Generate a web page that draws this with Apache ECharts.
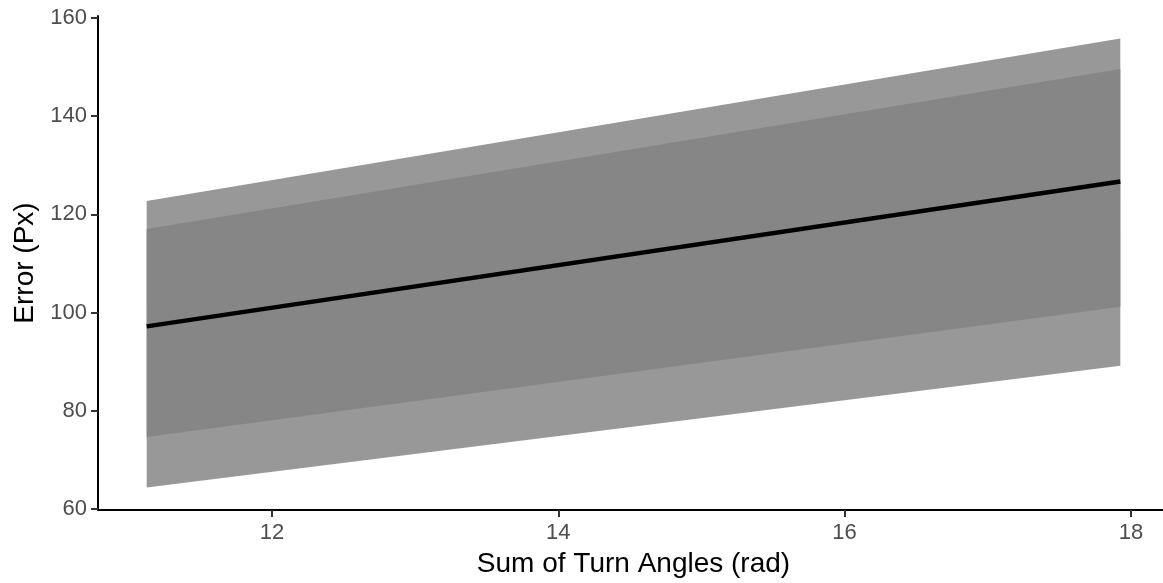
<!DOCTYPE html>
<html>
<head>
<meta charset="utf-8">
<script src="https://cdn.jsdelivr.net/npm/echarts@6/dist/echarts.min.js"></script>
<style>
  html, body { margin: 0; padding: 0; background: #ffffff; overflow: hidden; }
  #chart { width: 1170px; height: 583px; }
</style>
</head>
<body>
<div id="chart"></div>
<script>
// Predicted error vs. summed turn angle, with two uncertainty bands
const turnAngles = [11.125, 17.926];
const fitted     = [97.2, 126.7];
const innerLower = [74.7, 101.2];
const innerUpper = [117.0, 149.6];
const outerLower = [64.4, 89.2];
const outerUpper = [122.7, 155.8];

const xTicks = [12, 14, 16, 18];
const yTicks = [60, 80, 100, 120, 140, 160];

const FONT = "'Liberation Sans', Helvetica, Arial, sans-serif";

// band rows: [x, lower, upper]
function bandRows(lo, hi) {
  return turnAngles.map((x, i) => [x, lo[i], hi[i]]);
}

// draws the whole band polygon once, from the scaled points
function bandRenderer(color) {
  return function (params, api) {
    if (params.dataIndex !== 0) return null;
    const n = turnAngles.length;
    const upper = [], lower = [];
    for (let i = 0; i < n; i++) {
      upper.push(api.coord([api.value(0, i), api.value(2, i)]));
      lower.push(api.coord([api.value(0, i), api.value(1, i)]));
    }
    const pts = upper.concat(lower.reverse());
    return {
      type: 'polygon',
      shape: { points: pts },
      style: { fill: color, stroke: null }
    };
  };
}

const chart = echarts.init(document.getElementById('chart'), null, { renderer: 'canvas' });

chart.setOption({
  backgroundColor: '#ffffff',
  animation: false,
  grid: { left: 98, right: 1, top: 16, bottom: 69, containLabel: false },
  xAxis: {
    type: 'value',
    min: 10.785,
    max: 18.266,
    name: 'Sum of Turn Angles (rad)',
    nameLocation: 'middle',
    nameGap: 40,
    nameTextStyle: { fontFamily: FONT, fontSize: 28, color: '#000000' },
    axisLine: { show: true, onZero: false, lineStyle: { color: '#000000', width: 2 } },
    axisTick: { show: true, length: 7, lineStyle: { color: '#333333', width: 2 }, customValues: xTicks },
    axisLabel: { fontFamily: FONT, fontSize: 22, color: '#4d4d4d', margin: 12, customValues: xTicks },
    splitLine: { show: false }
  },
  yAxis: {
    type: 'value',
    min: 59.83,
    max: 160.37,
    name: 'Error (Px)',
    nameLocation: 'middle',
    nameGap: 52,
    nameRotate: 90,
    nameTextStyle: { fontFamily: FONT, fontSize: 28, color: '#000000' },
    axisLine: { show: true, onZero: false, lineStyle: { color: '#000000', width: 2 } },
    axisTick: { show: true, length: 7, lineStyle: { color: '#333333', width: 2 }, customValues: yTicks },
    axisLabel: { fontFamily: FONT, fontSize: 22, color: '#4d4d4d', margin: 11, customValues: yTicks },
    splitLine: { show: false }
  },
  series: [
    {
      type: 'custom',
      name: 'outer',
      renderItem: bandRenderer('#989898'),
      data: bandRows(outerLower, outerUpper),
      encode: { x: 0, y: [1, 2] },
      z: 1,
      silent: true
    },
    {
      type: 'custom',
      name: 'inner',
      renderItem: bandRenderer('#868686'),
      data: bandRows(innerLower, innerUpper),
      encode: { x: 0, y: [1, 2] },
      z: 2,
      silent: true
    },
    {
      type: 'line',
      name: 'fit',
      data: turnAngles.map((x, i) => [x, fitted[i]]),
      showSymbol: false,
      symbol: 'none',
      lineStyle: { color: '#000000', width: 4.5 },
      z: 3,
      silent: true
    }
  ]
});
</script>
</body>
</html>
